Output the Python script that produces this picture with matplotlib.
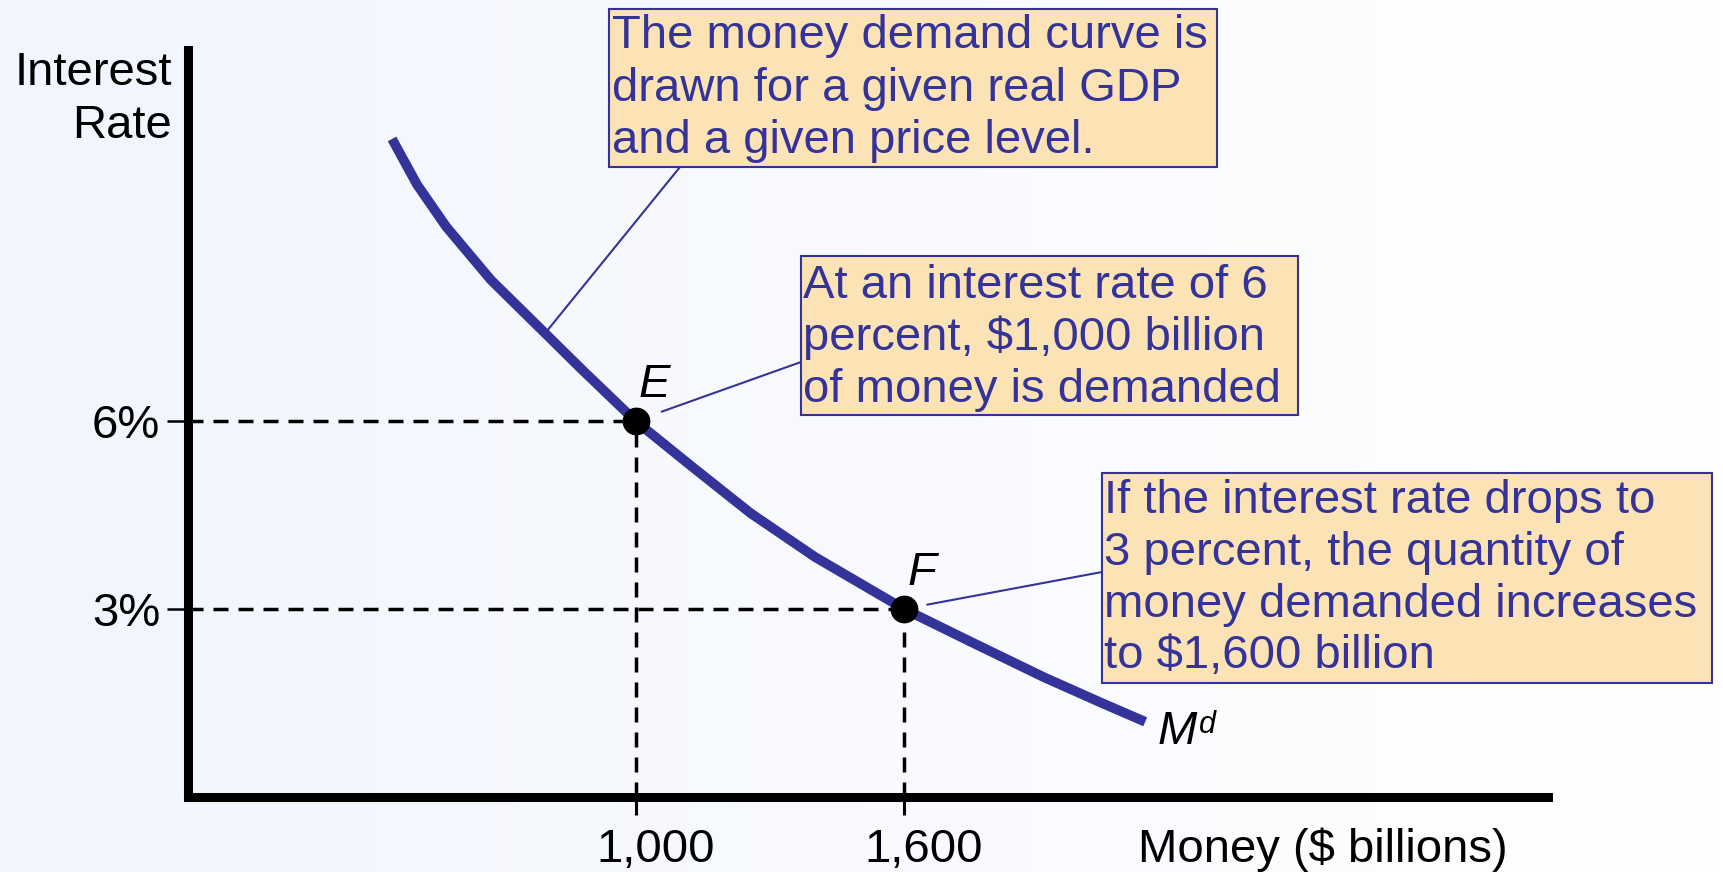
import numpy as np
import matplotlib
matplotlib.use("Agg")
import matplotlib.pyplot as plt
from matplotlib.colors import LinearSegmentedColormap
from matplotlib.patches import Rectangle

# ---------------- data ----------------
money = [456, 512, 577, 677, 798, 876, 1000, 1130, 1257, 1401, 1600, 1754, 1913, 2042, 2139]
rate = [10.5, 9.77, 9.1, 8.25, 7.40, 6.85, 6.0, 5.25, 4.53, 3.83, 3.0, 2.46, 1.91, 1.50, 1.20]
point_names = ["E", "F"]
point_money = [1000, 1600]
point_rate = [6, 3]
rate_ticks = [3, 6]
rate_tick_labels = ["3%", "6%"]
money_ticks = [1000, 1600]
money_tick_labels = ["1,000", "1,600"]
y_label = ["Interest", "Rate"]
x_label = "Money ($ billions)"
curve_label = ["M", "d"]
note1 = ["The money demand curve is", "drawn for a given real GDP", "and a given price level."]
note2 = ["At an interest rate of 6", "percent, $1,000 billion", "of money is demanded"]
note3 = ["If the interest rate drops to", "3 percent, the quantity of",
         "money demanded increases", "to $1,600 billion"]

# ---------------- style ----------------
W, H = 1724, 872
BLUE = "#333399"
FILL = "#FBE3B6"
plt.rcParams['font.family'] = ['Liberation Sans', 'DejaVu Sans']
plt.rcParams['lines.scale_dashes'] = False
FS = 34

fig = plt.figure(figsize=(W / 100, H / 100), dpi=100)


def fx(x):
    return x / W


def fy(y):
    return 1 - y / H


# background gradient
bg = fig.add_axes([0, 0, 1, 1], zorder=-10)
grad = np.linspace(0, 1, 256).reshape(1, -1)
cmap = LinearSegmentedColormap.from_list("bg", ["#F1F5FD", "#FFFFFF"])
bg.imshow(grad, aspect='auto', cmap=cmap, extent=[0, 1, 0, 1])
bg.set_axis_off()

# main axes (pixel frame)
L, R, T, B = 188, 1548, 50, 797
ax = fig.add_axes([fx(L), fy(B), (R - L) / W, (B - T) / H])
ax.set_facecolor('none')
ax.set_xlim(0, (R - L) / 0.4475)
ax.set_ylim(0, (B - T) / 62.67)
for s in ['top', 'right']:
    ax.spines[s].set_visible(False)
for s in ['left', 'bottom']:
    ax.spines[s].set_linewidth(6.5)
    ax.spines[s].set_capstyle('projecting')

ax.set_yticks(rate_ticks, labels=rate_tick_labels)
ax.tick_params(axis='y', direction='out', length=15, width=1.8, pad=5,
               labelsize=FS, color='black')
ax.set_xticks(money_ticks)
ax.tick_params(axis='x', direction='out', length=13, width=2.2, labelbottom=False)

for m, lab in zip(money_ticks, money_tick_labels):
    ax.annotate(lab, (m, 0), xytext=(14.4, -47.0), textcoords='offset points',
                ha='center', va='baseline', fontsize=FS, annotation_clip=False)

# dashed guides
for m, r in zip(point_money, point_rate):
    ax.plot([0, m], [r, r], color='k', lw=2.5, ls=(0, (10.8, 7.2)), zorder=2, clip_on=False)
    ax.plot([m, m], [0, r], color='k', lw=2.5, ls=(0, (10.8, 7.2)), zorder=2, clip_on=False)

# demand curve
ax.plot(money, rate, color=BLUE, lw=7, solid_capstyle='butt',
        solid_joinstyle='round', zorder=3, clip_on=False)

# points
ax.plot(point_money, point_rate, 'o', color='k', ms=19, zorder=4, clip_on=False)
for name, m, r in zip(point_names, point_money, point_rate):
    ax.annotate(name, (m, r), xytext=(2.5, 17), textcoords='offset points',
                ha='left', va='baseline', fontsize=FS, style='italic')

# curve label
ax.annotate(curve_label[0], (money[-1], rate[-1]), xytext=(8.6, -15.8),
            textcoords='offset points', ha='left', va='baseline',
            fontsize=FS, style='italic', annotation_clip=False)
ax.annotate(curve_label[1], (money[-1], rate[-1]), xytext=(38.9, -7.9),
            textcoords='offset points', ha='left', va='baseline',
            fontsize=22, style='italic', annotation_clip=False)

# axis titles
fig.text(fx(172), fy(85), y_label[0], ha='right', va='baseline', fontsize=FS)
fig.text(fx(172), fy(138), y_label[1], ha='right', va='baseline', fontsize=FS)
fig.text(fx(1138), fy(862), x_label, ha='left', va='baseline', fontsize=FS)


# note boxes
def note(x0, y0, x1, y1, lines, tx, baselines):
    fig.add_artist(Rectangle((fx(x0), fy(y1)), (x1 - x0) / W, (y1 - y0) / H,
                             transform=fig.transFigure, facecolor=FILL,
                             edgecolor=BLUE, lw=1.5, zorder=5))
    for line, by in zip(lines, baselines):
        fig.text(fx(tx), fy(by), line, ha='left', va='baseline', fontsize=FS,
                 color=BLUE, zorder=6)


note(609, 9, 1217, 167, note1, 612, [48, 101, 153])
note(801, 256, 1298, 415, note2, 803, [298, 350, 402])
note(1102, 473, 1712, 683, note3, 1104, [513, 565, 617, 668])

# leader lines
leaders = [((680, 167), (money[4], rate[4]), 0),
           ((801, 362), (point_money[0], point_rate[0]), 20),
           ((1102, 572), (point_money[1], point_rate[1]), 17)]
for (px, py), xy, shrink in leaders:
    ax.annotate('', xy=xy, xycoords='data', xytext=(fx(px), fy(py)),
                textcoords='figure fraction',
                arrowprops=dict(arrowstyle='-', color=BLUE, lw=1.5,
                                shrinkA=0, shrinkB=shrink),
                zorder=5, annotation_clip=False)

fig.savefig('out.png', dpi=100)
